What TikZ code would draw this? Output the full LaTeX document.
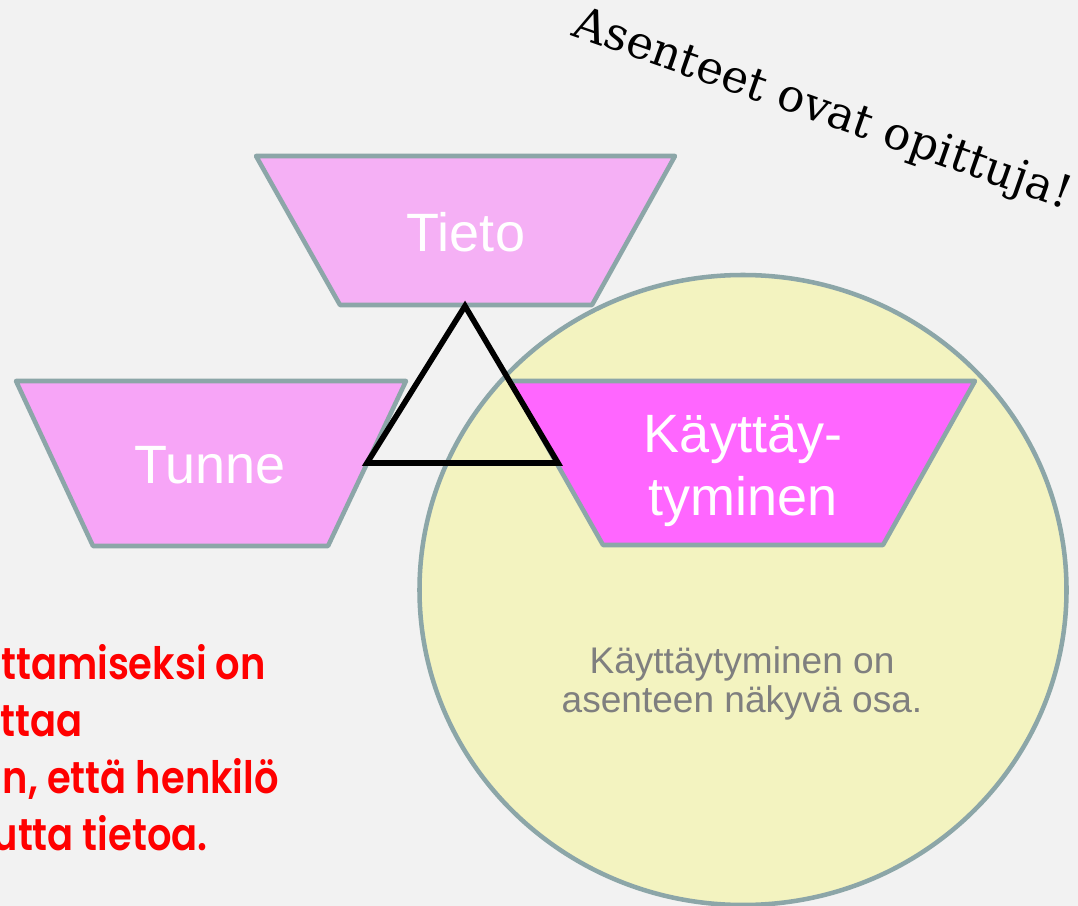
\documentclass[tikz,border=0pt]{standalone}
\usepackage{fontspec}
\setmainfont{Liberation Sans}
\newfontfamily\redfont[FakeStretch=0.86, BoldFont={Poppins SemiBold}]{Poppins}
\newfontfamily\mottofont{DejaVu Serif}
\definecolor{bgc}{HTML}{F2F2F2}
\definecolor{edgec}{HTML}{8CA6A8}
\definecolor{tietoc}{HTML}{F5B0F5}
\definecolor{tunnec}{HTML}{F7A5F7}
\definecolor{kaytc}{HTML}{FF66FF}
\definecolor{circc}{HTML}{F3F3C0}
\definecolor{graytxt}{HTML}{7F7F7F}
\begin{document}
\begin{tikzpicture}[x=0.75pt,y=-0.75pt,
  shapebox/.style={draw=edgec, line width=3.4pt, line join=round},
  whitelbl/.style={text=white, inner sep=0pt, font=\fontsize{40.5}{47.25}\selectfont},
  graylbl/.style={text=graytxt, inner sep=0pt, font=\fontsize{27.8}{29.6}\selectfont},
  redlbl/.style={text=red, inner sep=0pt, anchor=base east, font=\redfont\bfseries\fontsize{33.5}{40}\selectfont},
  trianglestroke/.style={draw=black, line width=4.2pt, line join=miter}]
\useasboundingbox (0,0) rectangle (1078,906);
\fill[bgc] (0,0) rectangle (1078,906);
\begin{scope}
\clip (0,0) rectangle (1078,906);
% Tieto
\coordinate (tA) at (256,156); \coordinate (tB) at (675,156);
\coordinate (tC) at (592,305); \coordinate (tD) at (340,305);
\draw[shapebox, fill=tietoc] (tA) -- (tB) -- (tC) -- (tD) -- cycle;
% Tunne
\coordinate (uA) at (16,381); \coordinate (uB) at (406,381);
\coordinate (uC) at (328,546); \coordinate (uD) at (93,546);
\draw[shapebox, fill=tunnec] (uA) -- (uB) -- (uC) -- (uD) -- cycle;
% circle
\coordinate (cc) at (743,590);
\draw[shapebox, fill=circc] (cc) ellipse [x radius=323.5, y radius=315];
% Kayttaytyminen
\coordinate (kA) at (510,381); \coordinate (kB) at (975,381);
\coordinate (kC) at (883,545); \coordinate (kD) at (603,545);
\draw[shapebox, fill=kaytc] (kA) -- (kB) -- (kC) -- (kD) -- cycle;
% triangle
\coordinate (ap) at (465,306); \coordinate (bl) at (367,463); \coordinate (br) at (558,463);
\draw[trianglestroke] (ap) -- (bl) -- (br) -- cycle;
% labels
\node[whitelbl, anchor=base] (tieto) at (466,251) {Tieto};
\node[whitelbl, anchor=base] (tunne) at (210,483) {Tunne};
\node[whitelbl, anchor=base] (kayt) at (743,452) {\begin{tabular}[t]{@{}c@{}}Käyttäy-\\tyminen\end{tabular}};
\node[graylbl, anchor=base] (note) at (742,673) {\begin{tabular}[t]{@{}c@{}}Käyttäytyminen on\\asenteen näkyvä osa.\end{tabular}};
% red text
\node[redlbl] (r1) at (266,679) {uttamiseksi on};
\node[redlbl] (r2) at (83,736) {ttaa};
\node[redlbl] (r3) at (279,793) {n, että henkilö};
\node[redlbl] (r4) at (208,850) {utta tietoa.};
% motto
\node[font=\mottofont\fontsize{34}{40}\selectfont, rotate=-19.4, anchor=base west, inner sep=0pt] (motto) at (570,35) {Asenteet ovat opittuja!};
\end{scope}
\end{tikzpicture}
\end{document}
